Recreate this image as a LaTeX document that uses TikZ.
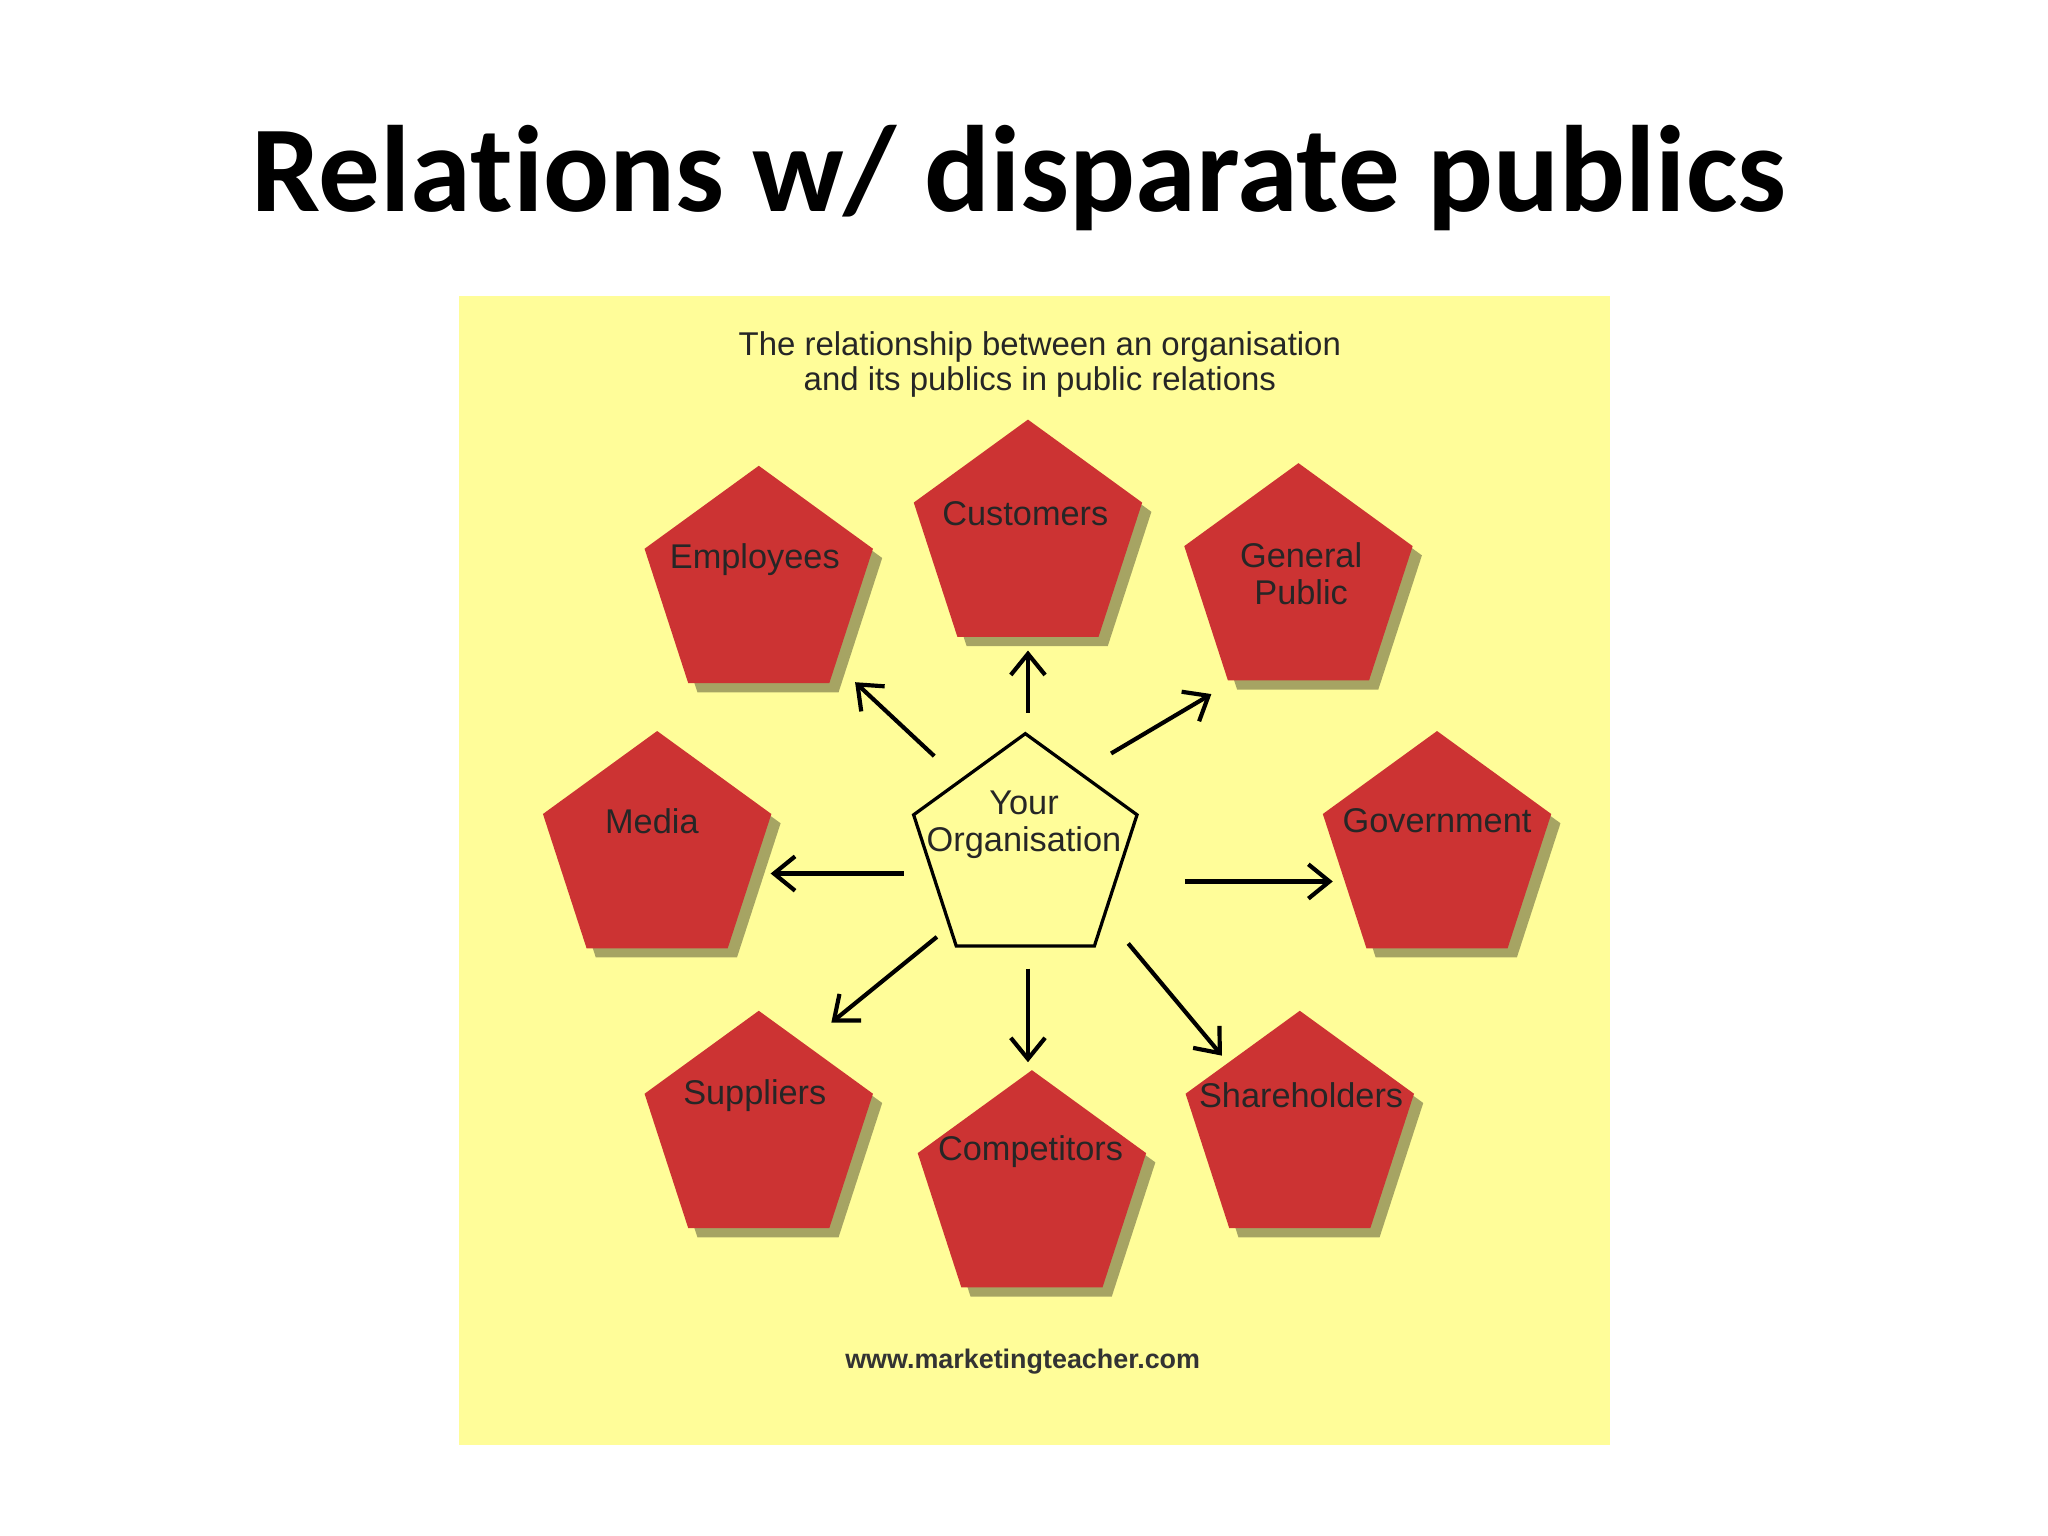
\documentclass[tikz,border=0pt]{standalone}
\usepackage{fontspec}
\setmainfont{Liberation Sans}
\newfontfamily\titlefont[Ligatures=NoCommon]{Carlito}
\usetikzlibrary{shapes.geometric,shadows,arrows.meta}
\definecolor{bgyel}{HTML}{FFFD99}
\definecolor{pred}{HTML}{CC3333}
\tikzset{
  pent/.style={regular polygon,regular polygon sides=5,minimum size=1.82cm,inner sep=0pt,fill=pred,
    drop shadow={shadow xshift=0.07cm,shadow yshift=-0.07cm,fill=black,opacity=0.35}},
  lbl/.style={font=\fontsize{7.4}{8}\selectfont,align=center,text=black!85},
  arr/.style={->,>={Straight Barb[length=1.6mm,width=2.6mm]},line width=0.9pt}
}
\begin{document}
\begin{tikzpicture}[x=1cm,y=1cm]
\useasboundingbox (0,0) rectangle (15.52,11.64);
\fill[white] (0,0) rectangle (15.52,11.64);
\fill[bgyel] (3.48,11.64-2.24) rectangle (12.20,11.64-10.95);
\node (title) at (7.72,11.64-1.35) {\titlefont\bfseries\fontsize{26.5}{30}\selectfont Relations w/ disparate publics};
\node[lbl,font=\fontsize{7.1}{7.6}\selectfont] (cap) at (7.88,11.64-2.76) {The relationship between an organisation\\and its publics in public relations};
\node[font=\bfseries\fontsize{5.8}{7}\selectfont,text=black!80] (url) at (7.75,11.64-10.32) {www.marketingteacher.com};
% pentagons
\node[pent] (emp) at (5.75,11.64-4.44) {};
\node[pent] (cus) at (7.79,11.64-4.09) {};
\node[pent] (gen) at (9.84,11.64-4.42) {};
\node[pent] (med) at (4.98,11.64-6.45) {};
\node[pent] (gov) at (10.89,11.64-6.45) {};
\node[pent] (sup) at (5.75,11.64-8.57) {};
\node[pent] (com) at (7.82,11.64-9.02) {};
\node[pent] (sha) at (9.85,11.64-8.57) {};
\node[regular polygon,regular polygon sides=5,minimum size=1.78cm,inner sep=0pt,draw,line width=0.7pt] (org) at (7.77,11.64-6.45) {};
\node[lbl] at (5.72,11.64-4.24) {Employees};
\node[lbl] at (7.77,11.64-3.89) {Customers};
\node[lbl] at (9.86,11.64-4.35) {General\\Public};
\node[lbl] at (4.94,11.64-6.22) {Media};
\node[lbl] at (10.89,11.64-6.22) {Government};
\node[lbl] at (5.72,11.64-8.30) {Suppliers};
\node[lbl] at (7.81,11.64-8.73) {Competitors};
\node[lbl] at (9.86,11.64-8.30) {Shareholders};
\node[lbl] at (7.76,11.64-6.25) {Your\\Organisation};
% arrow ends
\coordinate (a1) at (7.79,11.64-5.40); \coordinate (b1) at (7.79,11.64-4.93);
\coordinate (a2) at (7.08,11.64-5.73); \coordinate (b2) at (6.48,11.64-5.17);
\coordinate (a3) at (8.42,11.64-5.71); \coordinate (b3) at (9.18,11.64-5.26);
\coordinate (a4) at (6.85,11.64-6.62); \coordinate (b4) at (5.84,11.64-6.62);
\coordinate (a5) at (8.98,11.64-6.68); \coordinate (b5) at (10.10,11.64-6.68);
\coordinate (a6) at (7.10,11.64-7.10); \coordinate (b6) at (6.30,11.64-7.75);
\coordinate (a7) at (7.79,11.64-7.34); \coordinate (b7) at (7.79,11.64-8.05);
\coordinate (a8) at (8.55,11.64-7.15); \coordinate (b8) at (9.26,11.64-8.00);
\foreach \i in {1,...,8} \draw[arr] (a\i) -- (b\i);
\end{tikzpicture}
\end{document}
